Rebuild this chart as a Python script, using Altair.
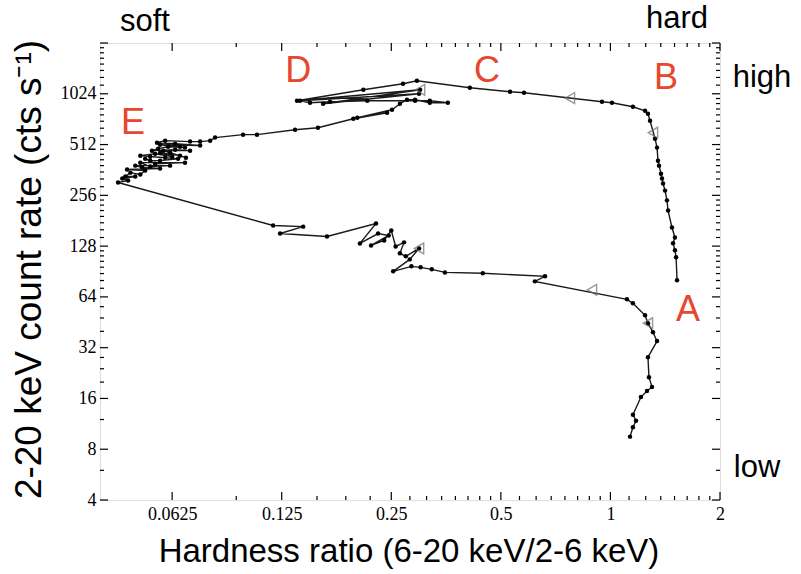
import altair as alt
import pandas as pd

# Hardness ratio (6-20 keV / 2-6 keV) along the outburst track, in time order
hardness = [
    # hard decline at the bottom right
    1.132, 1.153, 1.176, 1.153, 1.213, 1.260, 1.301, 1.276, 1.268, 1.343,
    1.309, 1.268, 1.245, 1.153, 1.110, 0.620, 0.661, 0.446, 0.351, 0.323,
    # intermediate zig-zag
    0.301, 0.284, 0.253, 0.281, 0.298, 0.274, 0.264, 0.271, 0.257, 0.250,
    0.239, 0.220, 0.246, 0.230, 0.205, 0.227, 0.1665, 0.1237, 0.1432, 0.1184,
    # soft state cluster
    0.0444, 0.0473, 0.0456, 0.0495, 0.0465, 0.0480, 0.0511, 0.0527, 0.0470, 0.0579,
    0.0517, 0.0495, 0.0617, 0.0544, 0.0511, 0.0678, 0.0561, 0.0527, 0.0544, 0.0579,
    0.0649, 0.0544, 0.0598, 0.0511, 0.0561, 0.0625, 0.0579, 0.0657, 0.0682, 0.0617,
    0.0591, 0.0700, 0.0637, 0.0550, 0.0572, 0.0609, 0.0678, 0.0657, 0.0579, 0.0746,
    0.0637, 0.0568, 0.0598, 0.0700, 0.0746, 0.0795,
    # upper branch and bright intermediate state
    0.0820, 0.0979, 0.1069, 0.1360, 0.1572, 0.1966, 0.2434, 0.2016, 0.2512, 0.264,
    0.276, 0.2906, 0.319, 0.3576, 0.319, 0.2906, 0.2148, 0.1697, 0.1495, 0.1404,
    0.298, 0.1624, 0.300, 0.1377, 0.2095, 0.2692, 0.294,
    # bright hard state and rise
    0.411, 0.530, 0.579, 0.948, 1.010, 1.153, 1.245, 1.268, 1.285, 1.326,
    1.343, 1.351, 1.360, 1.377, 1.386, 1.395, 1.413, 1.430, 1.440, 1.476,
    1.504, 1.486, 1.504, 1.515, 1.524,
]

# 2-20 keV count rate (cts/s) for the same observations
rate = [
    9.5, 10.8, 11.8, 12.8, 16.3, 17.7, 18.7, 21.4, 28.1, 35.0,
    39.5, 44.7, 49.8, 58.6, 61.9, 79.1, 84.7, 88.3, 89.4, 93.2,
    95.8, 97.1, 90.7, 106.8, 124, 111.3, 116, 134.7, 127.5, 158.5,
    138.3, 129.2, 148, 152, 132.8, 174.4, 146, 152, 167, 169.6,
    305, 313, 322, 331, 331, 349, 340, 359, 364, 369,
    374, 384, 384, 379, 400, 400, 394, 422, 411, 411,
    422, 434, 428, 440, 452, 434, 458, 440, 428, 458,
    471, 471, 477, 471, 484, 497, 491, 497, 511, 505,
    518, 525, 540, 533, 533, 540,
    563, 586, 586, 627, 644, 728, 790, 738, 823, 894,
    943, 943, 906, 906, 931, 931, 931, 918, 906, 931,
    1024, 894, 1081, 931, 1081, 1174, 1222,
    1111, 1052, 1038, 918, 906, 858, 812, 779, 709, 555,
    491, 411, 384, 344, 322, 301, 273, 239, 208, 165,
    144, 133, 121, 110, 80.2,
]

# Direction markers placed along the track
arrow_hardness = [1.268, 0.89, 0.298, 0.300, 0.774, 1.309]
arrow_rate = [44.7, 70.5, 124, 1081, 965, 602]

# State labels and where they sit in hardness / rate space
state_names = ["A", "B", "C", "D", "E"]
state_hardness = [1.633, 1.421, 0.458, 0.1388, 0.0488]
state_rate = [53.3, 1273, 1401, 1401, 690]

# Axis ticks (powers of two) and minor subdivisions
x_major = [0.0625, 0.125, 0.25, 0.5, 1, 2]
y_major = [4, 8, 16, 32, 64, 128, 256, 512, 1024, 2048]
y_labels = [4, 8, 16, 32, 64, 128, 256, 512, 1024]
x_minor = [0.09375,
           0.15625, 0.1875, 0.21875,
           0.28125, 0.3125, 0.34375, 0.375, 0.40625, 0.4375, 0.46875,
           0.5625, 0.625, 0.6875, 0.75, 0.8125, 0.875, 0.9375,
           1.125, 1.25, 1.375, 1.5, 1.625, 1.75, 1.875]
y_minor = [6, 12, 20, 24, 28, 40, 48, 56,
           72, 80, 88, 96, 104, 112, 120,
           144, 160, 176, 192, 208, 224, 240,
           288, 320, 352, 384, 416, 448, 480,
           576, 640, 704, 768, 832, 896, 960,
           1152, 1280, 1408, 1536, 1664, 1792, 1920]

W, H = 620, 457
RED = "#e8462d"
SANS = "Liberation Sans"

track = pd.DataFrame({"i": range(len(hardness)), "hr": hardness, "rate": rate})
arrows = pd.DataFrame({"hr": arrow_hardness, "rate": arrow_rate})
states = pd.DataFrame({"name": state_names, "hr": state_hardness, "rate": state_rate})

xscale = alt.Scale(type="log", base=2, domain=[0.0396, 2], nice=False)
yscale = alt.Scale(type="log", base=2, domain=[4, 2048], nice=False)

x_axis = alt.Axis(values=x_major, labelExpr="'' + datum.value", title=None,
                  ticks=False, tickSize=0, domain=False, grid=False,
                  labelFont="Liberation Serif", labelFontSize=18, labelColor="black",
                  labelPadding=5, labelFlush=False, labelOverlap=False)
y_axis = alt.Axis(values=y_labels, labelExpr="'' + datum.value", title=None,
                  ticks=False, tickSize=0, domain=False, grid=False,
                  labelFont="Liberation Serif", labelFontSize=18, labelColor="black",
                  labelPadding=4, labelFlush=False, labelOverlap=False)


def X(field):
    return alt.X(field, scale=xscale, axis=x_axis)


def Y(field):
    return alt.Y(field, scale=yscale, axis=y_axis)


base = alt.Chart(track)
line = base.mark_line(color="#1a1a1a", strokeWidth=1.4).encode(
    x=X("hr:Q"), y=Y("rate:Q"), order=alt.Order("i:Q"))
dots = base.mark_circle(color="black", size=20, opacity=1).encode(
    x=X("hr:Q"), y=Y("rate:Q"))
arrow_marks = alt.Chart(arrows).mark_point(
    shape="triangle-left", filled=False, color="#6e6e6e", size=115, strokeWidth=1.4
).encode(x=X("hr:Q"), y=Y("rate:Q"))
state_text = alt.Chart(states).mark_text(
    font=SANS, fontSize=36, color=RED, baseline="middle", align="center"
).encode(x=X("hr:Q"), y=Y("rate:Q"), text="name:N")


def x_ticks(values, length):
    d = pd.DataFrame({"v": values})
    bottom = alt.Chart(d).mark_rule(color="black", strokeWidth=1.2).encode(
        x=X("v:Q"), y=alt.value(H), y2=alt.value(H - length))
    top = alt.Chart(d).mark_rule(color="black", strokeWidth=1.2).encode(
        x=X("v:Q"), y=alt.value(0), y2=alt.value(length))
    return [bottom, top]


def y_ticks(values, length):
    d = pd.DataFrame({"v": values})
    left = alt.Chart(d).mark_rule(color="black", strokeWidth=1.2).encode(
        y=Y("v:Q"), x=alt.value(0), x2=alt.value(length))
    right = alt.Chart(d).mark_rule(color="black", strokeWidth=1.2).encode(
        y=Y("v:Q"), x=alt.value(W), x2=alt.value(W - length))
    return [left, right]


def label(text, x, y, size=31, angle=0):
    return alt.Chart(pd.DataFrame({"t": [text]})).mark_text(
        font=SANS, fontSize=size, color="black",
        baseline="middle", align="center", angle=angle
    ).encode(x=alt.value(x), y=alt.value(y), text="t:N")


layers = [line, dots, arrow_marks, state_text]
layers += x_ticks(x_major, 8) + x_ticks(x_minor, 4)
layers += y_ticks(y_major, 8) + y_ticks(y_minor, 4)
layers += [
    label("Hardness ratio (6-20 keV/2-6 keV)", W / 2 - 1, H + 52, size=33),
    label("2-20 keV count rate (cts s⁻¹)", -70, H / 2 - 2, size=37, angle=270),
    label("soft", 45, -21),
    label("hard", 577, -24),
    label("high", 662, 35),
    label("low", 657, 425),
]

chart = alt.layer(*layers).properties(
    width=W, height=H,
    autosize=alt.AutoSizeParams(type="none"),
    padding={"left": 100, "top": 43, "right": 81, "bottom": 74},
).configure_view(stroke="black", strokeWidth=1.5).configure(background="white")

chart.save("out.html", embed_options={"renderer": "svg", "actions": False})
